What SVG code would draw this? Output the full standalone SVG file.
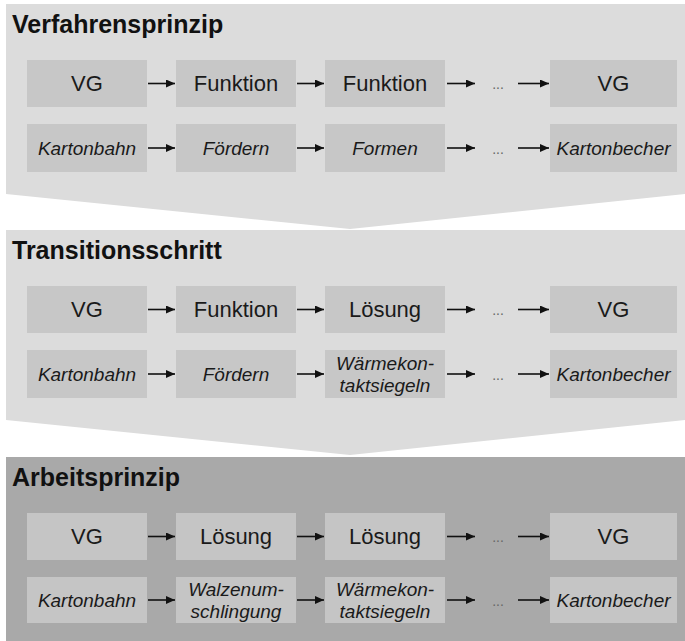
<svg xmlns="http://www.w3.org/2000/svg" width="685" height="641" viewBox="0 0 685 641">
<defs>
<marker id="ah" markerUnits="userSpaceOnUse" markerWidth="10" markerHeight="9" refX="9" refY="4" orient="auto">
<path d="M0,0 L9,4 L0,8 z" fill="#111"/>
</marker>
<style>
.pl{fill:#dcdcdc}
.pd{fill:#a9a9a9}
.bx{fill:#c7c7c7}
.bx3{fill:#c5c5c5}
.ttl{font-family:"Liberation Sans",Arial,sans-serif;font-weight:bold;font-size:25px;fill:#111}
.t1{font-family:"Liberation Sans",Arial,sans-serif;font-size:22px;fill:#1a1a1a;text-anchor:middle}
.t2{font-family:"Liberation Sans",Arial,sans-serif;font-size:19px;font-style:italic;fill:#1a1a1a;text-anchor:middle}
.dots{font-family:"Liberation Sans",Arial,sans-serif;font-size:14px;fill:#666;text-anchor:middle}
.ar{stroke:#111;stroke-width:1.6;fill:none;marker-end:url(#ah)}
</style>
</defs>
<rect width="685" height="641" fill="#ffffff"/>

<!-- Panel 1 -->
<g id="panel1">
<polygon class="pl" points="6,4 685,4 685,194 350,229 6,194"/>
<text class="ttl" x="12" y="33">Verfahrensprinzip</text>
<g id="p1r1c1"><rect class="bx" x="27" y="60" width="120" height="47"/><text class="t1" x="87" y="91">VG</text></g>
<g id="p1r1c2"><rect class="bx" x="176" y="60" width="120" height="47"/><text class="t1" x="236" y="91">Funktion</text></g>
<g id="p1r1c3"><rect class="bx" x="325" y="60" width="120" height="47"/><text class="t1" x="385" y="91">Funktion</text></g>
<g id="p1r1c4"><rect class="bx" x="550" y="60" width="127" height="47"/><text class="t1" x="613.5" y="91">VG</text></g>
<g id="p1r2c1"><rect class="bx" x="27" y="124" width="120" height="48"/><text class="t2" x="87" y="155">Kartonbahn</text></g>
<g id="p1r2c2"><rect class="bx" x="176" y="124" width="120" height="48"/><text class="t2" x="236" y="155">Fördern</text></g>
<g id="p1r2c3"><rect class="bx" x="325" y="124" width="120" height="48"/><text class="t2" x="385" y="155">Formen</text></g>
<g id="p1r2c4"><rect class="bx" x="550" y="124" width="127" height="48"/><text class="t2" x="613.5" y="155">Kartonbecher</text></g>
<text class="dots" x="498" y="89">...</text>
<text class="dots" x="498" y="154">...</text>
</g>

<!-- Panel 2 -->
<g id="panel2">
<polygon class="pl" points="6,230 685,230 685,420 350,455 6,420"/>
<text class="ttl" x="12" y="259">Transitionsschritt</text>
<g id="p2r1c1"><rect class="bx" x="27" y="286" width="120" height="47"/><text class="t1" x="87" y="317">VG</text></g>
<g id="p2r1c2"><rect class="bx" x="176" y="286" width="120" height="47"/><text class="t1" x="236" y="317">Funktion</text></g>
<g id="p2r1c3"><rect class="bx" x="325" y="286" width="120" height="47"/><text class="t1" x="385" y="317">Lösung</text></g>
<g id="p2r1c4"><rect class="bx" x="550" y="286" width="127" height="47"/><text class="t1" x="613.5" y="317">VG</text></g>
<g id="p2r2c1"><rect class="bx" x="27" y="350" width="120" height="48"/><text class="t2" x="87" y="381">Kartonbahn</text></g>
<g id="p2r2c2"><rect class="bx" x="176" y="350" width="120" height="48"/><text class="t2" x="236" y="381">Fördern</text></g>
<g id="p2r2c3"><rect class="bx" x="325" y="350" width="120" height="48"/><text class="t2" x="385" y="370">Wärmekon-</text><text class="t2" x="385" y="392">taktsiegeln</text></g>
<g id="p2r2c4"><rect class="bx" x="550" y="350" width="127" height="48"/><text class="t2" x="613.5" y="381">Kartonbecher</text></g>
<text class="dots" x="498" y="315">...</text>
<text class="dots" x="498" y="380">...</text>
</g>

<!-- Panel 3 -->
<g id="panel3">
<rect class="pd" x="6" y="457" width="679" height="184"/>
<text class="ttl" x="12" y="486">Arbeitsprinzip</text>
<g id="p3r1c1"><rect class="bx3" x="27" y="513" width="120" height="47"/><text class="t1" x="87" y="544">VG</text></g>
<g id="p3r1c2"><rect class="bx3" x="176" y="513" width="120" height="47"/><text class="t1" x="236" y="544">Lösung</text></g>
<g id="p3r1c3"><rect class="bx3" x="325" y="513" width="120" height="47"/><text class="t1" x="385" y="544">Lösung</text></g>
<g id="p3r1c4"><rect class="bx3" x="550" y="513" width="127" height="47"/><text class="t1" x="613.5" y="544">VG</text></g>
<g id="p3r2c1"><rect class="bx3" x="27" y="577" width="120" height="46"/><text class="t2" x="87" y="607">Kartonbahn</text></g>
<g id="p3r2c2"><rect class="bx3" x="176" y="577" width="120" height="46"/><text class="t2" x="236" y="596">Walzenum-</text><text class="t2" x="236" y="618">schlingung</text></g>
<g id="p3r2c3"><rect class="bx3" x="325" y="577" width="120" height="46"/><text class="t2" x="385" y="596">Wärmekon-</text><text class="t2" x="385" y="618">taktsiegeln</text></g>
<g id="p3r2c4"><rect class="bx3" x="550" y="577" width="127" height="46"/><text class="t2" x="613.5" y="607">Kartonbecher</text></g>
<text class="dots" x="498" y="542">...</text>
<text class="dots" x="498" y="606">...</text>
</g>

<!-- Connectors -->
<g id="connectors">
<path class="ar" d="M148,83.5 H175"/><path class="ar" d="M297,83.5 H324"/><path class="ar" d="M447,83.5 H475"/><path class="ar" d="M518,83.5 H549"/>
<path class="ar" d="M148,148 H175"/><path class="ar" d="M297,148 H324"/><path class="ar" d="M447,148 H475"/><path class="ar" d="M518,148 H549"/>
<path class="ar" d="M148,309.5 H175"/><path class="ar" d="M297,309.5 H324"/><path class="ar" d="M447,309.5 H475"/><path class="ar" d="M518,309.5 H549"/>
<path class="ar" d="M148,374 H175"/><path class="ar" d="M297,374 H324"/><path class="ar" d="M447,374 H475"/><path class="ar" d="M518,374 H549"/>
<path class="ar" d="M148,536.5 H175"/><path class="ar" d="M297,536.5 H324"/><path class="ar" d="M447,536.5 H475"/><path class="ar" d="M518,536.5 H549"/>
<path class="ar" d="M148,600 H175"/><path class="ar" d="M297,600 H324"/><path class="ar" d="M447,600 H475"/><path class="ar" d="M518,600 H549"/>
</g>
</svg>
